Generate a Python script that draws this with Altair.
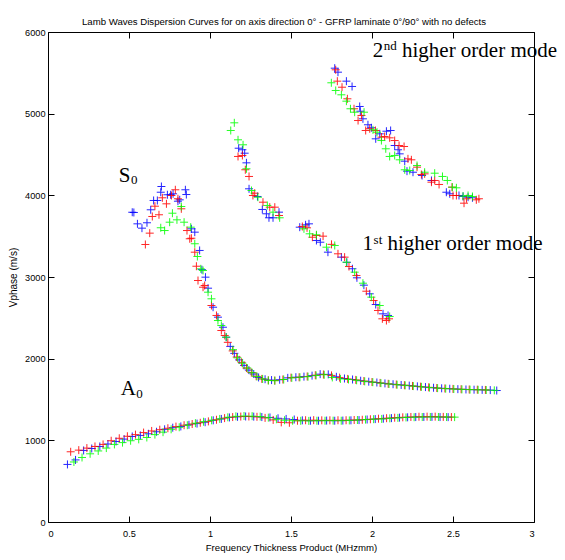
import altair as alt
import pandas as pd

# ---------------- axes / labels ----------------
TITLE = "Lamb Waves Dispersion Curves for on axis direction 0\u00b0 - GFRP laminate 0\u00b0/90\u00b0 with no defects"
X_TITLE = "Frequency Thickness Product (MHzmm)"
Y_TITLE = "Vphase (m/s)"
X_TICKS = [0, 0.5, 1, 1.5, 2, 2.5, 3]
Y_TICKS = [0, 1000, 2000, 3000, 4000, 5000, 6000]

SERIES = ["blue", "red", "green"]
COLORS = ["#0000ff", "#ff0000", "#00ff00"]

# ---------------- A0 mode ----------------
A0_BLUE_X = [0.12, 0.17, 0.22, 0.27, 0.32, 0.37, 0.42, 0.47, 0.52, 0.57,
             0.62, 0.67, 0.72, 0.77, 0.82, 0.87, 0.92, 0.97, 1.02, 1.07,
             1.12, 1.17, 1.22, 1.27, 1.32, 1.37, 1.42, 1.47, 1.52, 1.57,
             1.62, 1.67, 1.72, 1.77, 1.82, 1.87, 1.92, 1.97, 2.02, 2.07,
             2.12, 2.17, 2.22, 2.27, 2.32, 2.37, 2.42, 2.47]
A0_BLUE_Y = [705, 760, 876, 900, 925, 955, 986, 1015, 1047, 1060,
             1080, 1105, 1135, 1155, 1170, 1190, 1205, 1222, 1245, 1262,
             1280, 1288, 1292, 1290, 1285, 1280, 1270, 1262, 1255, 1245,
             1240, 1240, 1242, 1240, 1242, 1245, 1248, 1255, 1260, 1265,
             1272, 1278, 1282, 1285, 1286, 1287, 1285, 1284]
A0_RED_X = [0.14, 0.19, 0.24, 0.29, 0.34, 0.39, 0.44, 0.49, 0.54, 0.59,
            0.64, 0.69, 0.74, 0.79, 0.84, 0.89, 0.94, 0.99, 1.04, 1.09,
            1.14, 1.19, 1.24, 1.29, 1.34, 1.39, 1.44, 1.49, 1.54, 1.59,
            1.64, 1.69, 1.74, 1.79, 1.84, 1.89, 1.94, 1.99, 2.04, 2.09,
            2.14, 2.19, 2.24, 2.29, 2.34, 2.39, 2.44, 2.49]
A0_RED_Y = [860, 880, 905, 925, 950, 995, 1025, 1050, 1070, 1095,
            1115, 1130, 1148, 1168, 1185, 1200, 1215, 1232, 1252, 1272,
            1285, 1291, 1292, 1288, 1275, 1250, 1220, 1215, 1240, 1246,
            1247, 1245, 1245, 1246, 1246, 1249, 1252, 1258, 1265, 1271,
            1277, 1282, 1286, 1289, 1290, 1290, 1287, 1285]
A0_GREEN_X = [0.16, 0.21, 0.26, 0.31, 0.36, 0.41, 0.46, 0.51, 0.56, 0.61,
              0.66, 0.71, 0.76, 0.81, 0.86, 0.91, 0.96, 1.01, 1.06, 1.11,
              1.16, 1.21, 1.26, 1.31, 1.36, 1.41, 1.46, 1.51, 1.56, 1.61,
              1.66, 1.71, 1.76, 1.81, 1.86, 1.91, 1.96, 2.01, 2.06, 2.11,
              2.16, 2.21, 2.26, 2.31, 2.36, 2.41, 2.46, 2.51]
A0_GREEN_Y = [735, 790, 835, 870, 905, 950, 972, 995, 1012, 1035,
              1070, 1100, 1135, 1160, 1185, 1210, 1228, 1245, 1262, 1282,
              1294, 1298, 1296, 1291, 1278, 1258, 1246, 1240, 1239, 1238,
              1240, 1240, 1241, 1240, 1244, 1249, 1254, 1259, 1262, 1269,
              1275, 1280, 1283, 1285, 1286, 1286, 1285, 1284]

# ---------------- S0 mode ----------------
S0_BLUE_X = [0.52, 0.53, 0.552, 0.58, 0.611, 0.634, 0.652, 0.675, 0.696, 0.70,
             0.737, 0.757, 0.772, 0.802, 0.813, 0.848, 0.854,
             0.885, 0.906, 0.936, 0.95, 0.972, 0.988, 1.019, 1.049, 1.08, 1.10,
             1.125, 1.15, 1.18, 1.21, 1.24, 1.27, 1.30, 1.34, 1.38, 1.43,
             1.48, 1.53, 1.58, 1.63, 1.68, 1.73, 1.78, 1.83, 1.88, 1.93,
             1.98, 2.03, 2.08, 2.13, 2.18, 2.23, 2.28, 2.33, 2.38, 2.43,
             2.48, 2.53, 2.58, 2.63, 2.68, 2.73, 2.77]
S0_BLUE_Y = [3793, 3790, 3651, 3598, 3664, 3823, 3937, 3937, 4038, 4108,
             4007, 4007, 4019, 3928, 3945, 4068, 4010,
             3590, 3549, 3325, 3090, 2998, 2863, 2630, 2508, 2385, 2263,
             2150, 2065, 1985, 1918, 1860, 1812, 1770, 1748, 1738, 1742,
             1765, 1773, 1780, 1792, 1810, 1808, 1778, 1757, 1745, 1730,
             1718, 1708, 1697, 1687, 1678, 1670, 1661, 1652, 1644, 1637,
             1632, 1627, 1623, 1620, 1618, 1615, 1610]
S0_RED_X = [0.601, 0.628, 0.644, 0.66, 0.685, 0.706, 0.731, 0.762, 0.786, 0.802, 0.823,
            0.858, 0.875, 0.885, 0.906, 0.916, 0.926, 0.957, 0.967, 1.009, 1.04, 1.07, 1.091,
            1.11, 1.14, 1.165, 1.195, 1.225, 1.255, 1.285, 1.32, 1.36, 1.40,
            1.45, 1.50, 1.55, 1.60, 1.65, 1.70, 1.75, 1.80, 1.85, 1.90,
            1.95, 2.00, 2.05, 2.10, 2.15, 2.20, 2.25, 2.30, 2.35, 2.40,
            2.45, 2.50, 2.55, 2.60, 2.65, 2.70]
S0_RED_Y = [3398, 3537, 3741, 3867, 3762, 3970, 3896, 3998, 4068, 3958, 3835,
            3569, 3468, 3475, 3304, 3132, 2957, 2875, 2896, 2651, 2529, 2345, 2284,
            2200, 2095, 2020, 1955, 1885, 1830, 1785, 1752, 1735, 1732,
            1745, 1768, 1772, 1782, 1797, 1806, 1795, 1768, 1752, 1740,
            1726, 1714, 1703, 1692, 1683, 1675, 1666, 1657, 1649, 1641,
            1635, 1630, 1626, 1622, 1620, 1617]
S0_GREEN_X = [0.696, 0.72, 0.751, 0.768, 0.796, 0.823, 0.84,
              0.881, 0.906, 0.922, 0.943, 0.957, 0.988, 1.009, 1.049, 1.07, 1.10, 1.142,
              1.17, 1.20, 1.23, 1.26, 1.29, 1.325, 1.36, 1.40, 1.455, 1.505,
              1.555, 1.605, 1.655, 1.705, 1.755, 1.805, 1.855, 1.905, 1.955, 2.005,
              2.055, 2.105, 2.155, 2.205, 2.255, 2.305, 2.355, 2.405, 2.455, 2.505,
              2.555, 2.605, 2.655, 2.705, 2.755]
S0_GREEN_Y = [3603, 3569, 3671, 3781, 3700, 3863, 3671,
              3610, 3407, 3251, 3100, 3080, 2814, 2733, 2467, 2406, 2263, 2110,
              2010, 1945, 1885, 1828, 1782, 1752, 1733, 1730, 1745, 1765,
              1772, 1780, 1795, 1803, 1770, 1752, 1745, 1735, 1722, 1712,
              1700, 1690, 1681, 1673, 1664, 1655, 1646, 1639, 1633, 1628,
              1624, 1621, 1619, 1616, 1612]

# ---------------- 1st higher order mode ----------------
M1_BLUE_X = [1.177, 1.20, 1.214, 1.225, 1.241, 1.293, 1.323, 1.348, 1.364, 1.389, 1.426,
             1.554, 1.59, 1.611, 1.657, 1.681, 1.728, 1.811, 1.845, 1.879, 1.907,
             1.95, 1.986, 2.023, 2.068, 2.099]
M1_BLUE_Y = [4577, 4558, 4516, 4398, 4080, 3986, 3827, 3774, 3725, 3725, 3794,
             3610, 3639, 3651, 3447, 3426, 3304, 3243, 3180, 3101, 2990,
             2900, 2794, 2663, 2549, 2529]
M1_RED_X = [1.173, 1.20, 1.218, 1.241, 1.265, 1.276, 1.327, 1.369, 1.40, 1.426,
            1.57, 1.599, 1.632, 1.657, 1.698, 1.75, 1.79, 1.831, 1.858, 1.904,
            1.965, 2.01, 2.037, 2.064, 2.089, 2.105]
M1_RED_Y = [4476, 4488, 4313, 4231, 3998, 4026, 3916, 3855, 3855, 3753,
            3618, 3602, 3487, 3508, 3500, 3400, 3284, 3243, 3128, 3018,
            2826, 2712, 2590, 2488, 2467, 2488]
M1_GREEN_X = [1.128, 1.15, 1.173, 1.204, 1.225, 1.256, 1.296, 1.354, 1.389, 1.43,
              1.58, 1.615, 1.657, 1.719, 1.77, 1.842, 1.893, 1.944, 1.996, 2.048, 2.109]
M1_GREEN_Y = [4794, 4888, 4680, 4619, 4325, 4059, 3977, 3876, 3794, 3725,
              3590, 3529, 3517, 3365, 3386, 3181, 3059, 2924, 2753, 2651, 2516]

# ---------------- 2nd higher order mode ----------------
M2_BLUE_X = [1.77, 1.79, 1.842, 1.877, 1.924, 1.928, 1.944, 1.975, 1.996, 2.023,
             2.048, 2.089, 2.115, 2.14, 2.161, 2.171, 2.202, 2.216, 2.253, 2.309,
             2.367, 2.459, 2.48, 2.537, 2.562, 2.593, 2.62]
M2_BLUE_Y = [5557, 5508, 5398, 5333, 5088, 5030, 4937, 4864, 4827, 4692,
             4753, 4785, 4794, 4610, 4558, 4508, 4418, 4296, 4283, 4243,
             4182, 4038, 4019, 3998, 3986, 3977, 3970]
M2_RED_X = [1.776, 1.786, 1.815, 1.848, 1.889, 1.914, 1.935, 1.961, 1.986, 2.021,
            2.058, 2.078, 2.109, 2.14, 2.167, 2.198, 2.222, 2.243, 2.278, 2.305,
            2.325, 2.367, 2.387, 2.414, 2.494, 2.50, 2.521, 2.568, 2.583, 2.644, 2.66]
M2_RED_Y = [5537, 5398, 5324, 5182, 5060, 4916, 4978, 4794, 4815, 4794,
            4712, 4720, 4704, 4671, 4610, 4598, 4447, 4435, 4345, 4255,
            4263, 4161, 4182, 4133, 4100, 3998, 3998, 3904, 3958, 3945, 3958]
M2_GREEN_X = [1.749, 1.776, 1.811, 1.842, 1.867, 1.893, 1.951, 2.006, 2.031, 2.058,
              2.085, 2.109, 2.14, 2.171, 2.202, 2.233, 2.278, 2.325, 2.387, 2.435,
              2.465, 2.496, 2.521, 2.562, 2.593, 2.62]
M2_GREEN_Y = [5378, 5284, 5231, 5153, 5060, 5018, 5018, 4802, 4773, 4671,
              4570, 4476, 4488, 4435, 4313, 4304, 4365, 4283, 4271, 4231,
              4182, 4100, 4092, 3990, 3998, 3986]

# ---------------- annotations (data coordinates) ----------------
ANN_TEXT = ["2", "nd", "higher order mode", "S", "0", "1", "st", "higher order mode", "A", "0"]
ANN_X = [2.004, 2.072, 2.185, 0.436, 0.512, 1.941, 2.010, 2.095, 0.449, 0.545]
ANN_Y = [5688, 5774, 5688, 4169, 4133, 3325, 3410, 3325, 1549, 1524]
ANN_SIZE = [21, 13, 21, 21, 13, 21, 13, 21, 21, 13]


def frame(series, xs, ys):
    df = pd.DataFrame({"x": xs, "y": ys})
    df["series"] = series
    return df


data = pd.concat([
    frame("blue", A0_BLUE_X, A0_BLUE_Y),
    frame("blue", S0_BLUE_X, S0_BLUE_Y),
    frame("blue", M1_BLUE_X, M1_BLUE_Y),
    frame("blue", M2_BLUE_X, M2_BLUE_Y),
    frame("red", A0_RED_X, A0_RED_Y),
    frame("red", S0_RED_X, S0_RED_Y),
    frame("red", M1_RED_X, M1_RED_Y),
    frame("red", M2_RED_X, M2_RED_Y),
    frame("green", A0_GREEN_X, A0_GREEN_Y),
    frame("green", S0_GREEN_X, S0_GREEN_Y),
    frame("green", M1_GREEN_X, M1_GREEN_Y),
    frame("green", M2_GREEN_X, M2_GREEN_Y),
], ignore_index=True)

ann = pd.DataFrame({"t": ANN_TEXT, "x": ANN_X, "y": ANN_Y, "fs": ANN_SIZE})

SANS = "Liberation Sans, Arial, sans-serif"
SERIF = "Liberation Serif, Times New Roman, serif"

xscale = alt.Scale(domain=[0, 3], nice=False, zero=False)
yscale = alt.Scale(domain=[0, 6000], nice=False, zero=False)

points = alt.Chart(data).mark_point(
    shape="M-1,0L1,0M0,-1L0,1", filled=False, size=64, strokeWidth=1, opacity=0.85
).encode(
    x=alt.X("x:Q", scale=xscale, axis=alt.Axis(
        orient="bottom", values=X_TICKS, format="~g", tickSize=6, offset=-6,
        domain=False, grid=False, labelPadding=7, title=X_TITLE, titlePadding=4,
        titleFontSize=9.6)),
    y=alt.Y("y:Q", scale=yscale, axis=alt.Axis(
        orient="left", values=Y_TICKS, format="d", tickSize=6, offset=-6,
        domain=False, grid=False, labelPadding=3, title=Y_TITLE, titlePadding=6,
        titleFontSize=10)),
    color=alt.Color("series:N", scale=alt.Scale(domain=SERIES, range=COLORS), legend=None),
)

mirror = alt.Chart(data).mark_point(opacity=0).encode(
    x=alt.X("x:Q", scale=xscale, axis=alt.Axis(
        orient="top", values=X_TICKS, labels=False, tickSize=6, offset=-6,
        domain=False, grid=False, title=None)),
    y=alt.Y("y:Q", scale=yscale, axis=alt.Axis(
        orient="right", values=Y_TICKS, labels=False, tickSize=6, offset=-6,
        domain=False, grid=False, title=None)),
)

labels = alt.Chart(ann).mark_text(
    font=SERIF, align="left", baseline="alphabetic", color="black"
).encode(
    x=alt.X("x:Q", scale=xscale, axis=None),
    y=alt.Y("y:Q", scale=yscale, axis=None),
    text="t:N",
    size=alt.Size("fs:Q", scale=None),
)

chart = alt.layer(points, mirror, labels).resolve_axis(
    x="independent", y="independent"
).properties(
    width=486,
    height=490,
    autosize=alt.AutoSizeParams(type="none"),
    padding={"left": 40, "top": 24, "right": 23, "bottom": 38},
    title=alt.Title(TITLE, font=SANS, fontSize=9.6, fontWeight="normal",
                    color="black", anchor="middle", dx=-7, offset=1),
).configure_view(
    stroke="black", strokeWidth=1
).configure_axis(
    labelFont=SANS, labelFontSize=9.2, labelColor="black",
    titleFont=SANS, titleFontWeight="normal", titleColor="black",
    tickColor="black", tickWidth=1,
)

chart.save("out.html", embed_options={"renderer": "svg", "actions": False})
